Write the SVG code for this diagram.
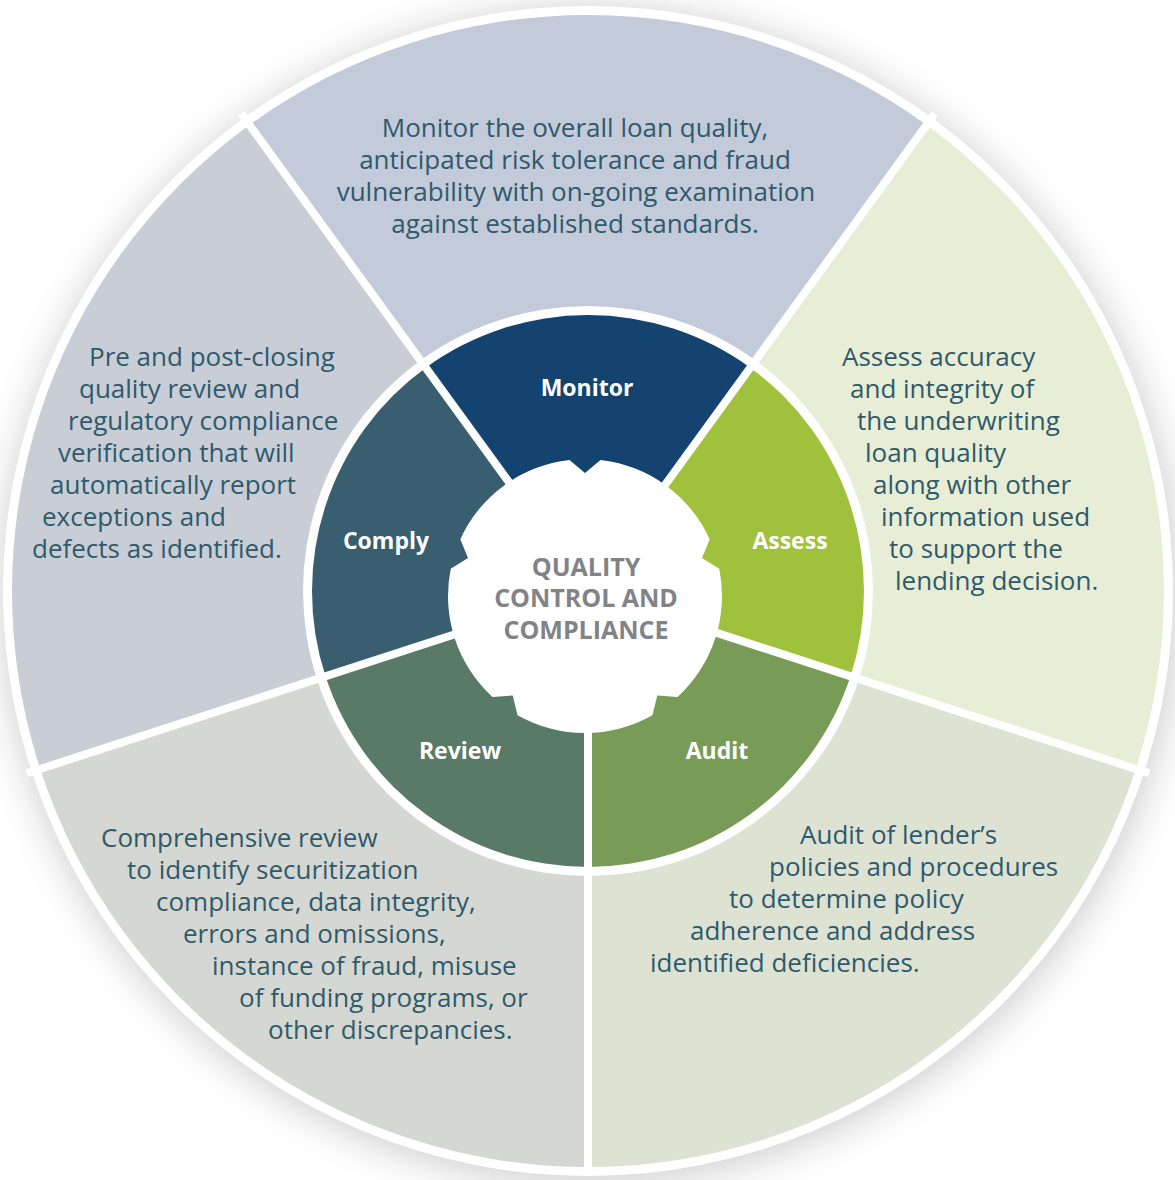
<svg xmlns="http://www.w3.org/2000/svg" width="1175" height="1180" viewBox="0 0 1175 1180">
<style>
.desc{font-family:"Open Sans","Noto Sans",sans-serif;font-size:26px;fill:#2e5a6c;}
.mid{text-anchor:middle;}
.lbl{font-family:"Open Sans","Noto Sans",sans-serif;font-weight:700;font-size:23px;fill:#ffffff;text-anchor:middle;}
.ctr{font-family:"Open Sans","Noto Sans",sans-serif;font-weight:700;font-size:25px;fill:#818386;text-anchor:middle;}
.sep{stroke:#ffffff;stroke-width:8;fill:none;}
</style>
<defs>
<filter id="sh" x="-20%" y="-20%" width="140%" height="140%">
<feGaussianBlur stdDeviation="22"/>
</filter>
</defs>
<rect width="1175" height="1180" fill="#ffffff"/>
<circle cx="590" cy="596" r="584" fill="#000000" opacity="0.22" filter="url(#sh)"/>
<circle cx="588" cy="591" r="585" fill="#ffffff"/>

<g id="monitor">
<path d="M249.44,125 A576,576 0 0 1 926.56,125 L755.52,360.43 A285,285 0 0 0 420.48,360.43 Z" fill="#c3cad9"/>
<path d="M588,591 L425.77,367.71 A276,276 0 0 1 750.23,367.71 Z" fill="#14436f"/>
<text class="lbl" x="587" y="396">Monitor</text>
<text class="desc mid" x="575" y="137">Monitor the overall loan quality,</text>
<text class="desc mid" x="575" y="169">anticipated risk tolerance and fraud</text>
<text class="desc mid" x="576" y="201">vulnerability with on-going examination</text>
<text class="desc mid" x="575" y="233">against established standards.</text>
</g>

<g id="assess">
<path d="M926.56,125 A576,576 0 0 1 1135.81,769 L859.05,679.07 A285,285 0 0 0 755.52,360.43 Z" fill="#e8eed5"/>
<path d="M588,591 L750.23,367.71 A276,276 0 0 1 850.49,676.29 Z" fill="#a0c13b"/>
<text class="lbl" x="790" y="549">Assess</text>
<text class="desc" x="842" y="366">Assess accuracy</text>
<text class="desc" x="850" y="398">and integrity of</text>
<text class="desc" x="857" y="430">the underwriting</text>
<text class="desc" x="865" y="462">loan quality</text>
<text class="desc" x="873" y="494">along with other</text>
<text class="desc" x="881" y="526">information used</text>
<text class="desc" x="889" y="558">to support the</text>
<text class="desc" x="895" y="590">lending decision.</text>
</g>

<g id="audit">
<path d="M1135.81,769 A576,576 0 0 1 588,1167 L588,876 A285,285 0 0 0 859.05,679.07 Z" fill="#dee2d3"/>
<path d="M588,591 L850.49,676.29 A276,276 0 0 1 588,867 Z" fill="#789c57"/>
<text class="lbl" x="717" y="759">Audit</text>
<text class="desc" x="800" y="844">Audit of lender’s</text>
<text class="desc" x="769" y="876">policies and procedures</text>
<text class="desc" x="729" y="908">to determine policy</text>
<text class="desc" x="690" y="940">adherence and address</text>
<text class="desc" x="650" y="972">identified deficiencies.</text>
</g>

<g id="review">
<path d="M588,1167 A576,576 0 0 1 40.19,769 L316.95,679.07 A285,285 0 0 0 588,876 Z" fill="#d5d8d2"/>
<path d="M588,591 L588,867 A276,276 0 0 1 325.51,676.29 Z" fill="#587a67"/>
<text class="lbl" x="460" y="759">Review</text>
<text class="desc" x="101" y="847">Comprehensive review</text>
<text class="desc" x="127" y="879">to identify securitization</text>
<text class="desc" x="156" y="911">compliance, data integrity,</text>
<text class="desc" x="183" y="943">errors and omissions,</text>
<text class="desc" x="212" y="975">instance of fraud, misuse</text>
<text class="desc" x="239" y="1007">of funding programs, or</text>
<text class="desc" x="268" y="1039">other discrepancies.</text>
</g>

<g id="comply">
<path d="M40.19,769 A576,576 0 0 1 249.44,125 L420.48,360.43 A285,285 0 0 0 316.95,679.07 Z" fill="#c9cdd6"/>
<path d="M588,591 L325.51,676.29 A276,276 0 0 1 425.77,367.71 Z" fill="#385e70"/>
<text class="lbl" x="386" y="549">Comply</text>
<text class="desc" x="89" y="366">Pre and post-closing</text>
<text class="desc" x="79" y="398">quality review and</text>
<text class="desc" x="68" y="430">regulatory compliance</text>
<text class="desc" x="58" y="462">verification that will</text>
<text class="desc" x="50" y="494">automatically report</text>
<text class="desc" x="42" y="526">exceptions and</text>
<text class="desc" x="32" y="558">defects as identified.</text>
</g>

<g id="separators">
<line class="sep" x1="588" y1="591" x2="241.21" y2="113.68"/>
<line class="sep" x1="588" y1="591" x2="934.79" y2="113.68"/>
<line class="sep" x1="588" y1="591" x2="1149.12" y2="773.32"/>
<line class="sep" x1="588" y1="591" x2="588" y2="1176"/>
<line class="sep" x1="588" y1="591" x2="26.88" y2="773.32"/>
</g>

<g id="center">
<path d="M569.49,459.88 L585,473 L600.51,459.88 A137,137 0 0 1 709.66,539.19 L701.98,557.99 L719.25,568.69 A137,137 0 0 1 677.56,697.01 L657.30,695.51 L652.46,715.24 A137,137 0 0 1 517.54,715.24 L512.70,695.51 L492.44,697.01 A137,137 0 0 1 450.75,568.69 L468.02,557.99 L460.34,539.19 A137,137 0 0 1 569.49,459.88 Z" fill="#ffffff"/>
<text class="ctr" x="586" y="576">QUALITY</text>
<text class="ctr" x="586" y="607">CONTROL AND</text>
<text class="ctr" x="586" y="639">COMPLIANCE</text>
</g>
</svg>
